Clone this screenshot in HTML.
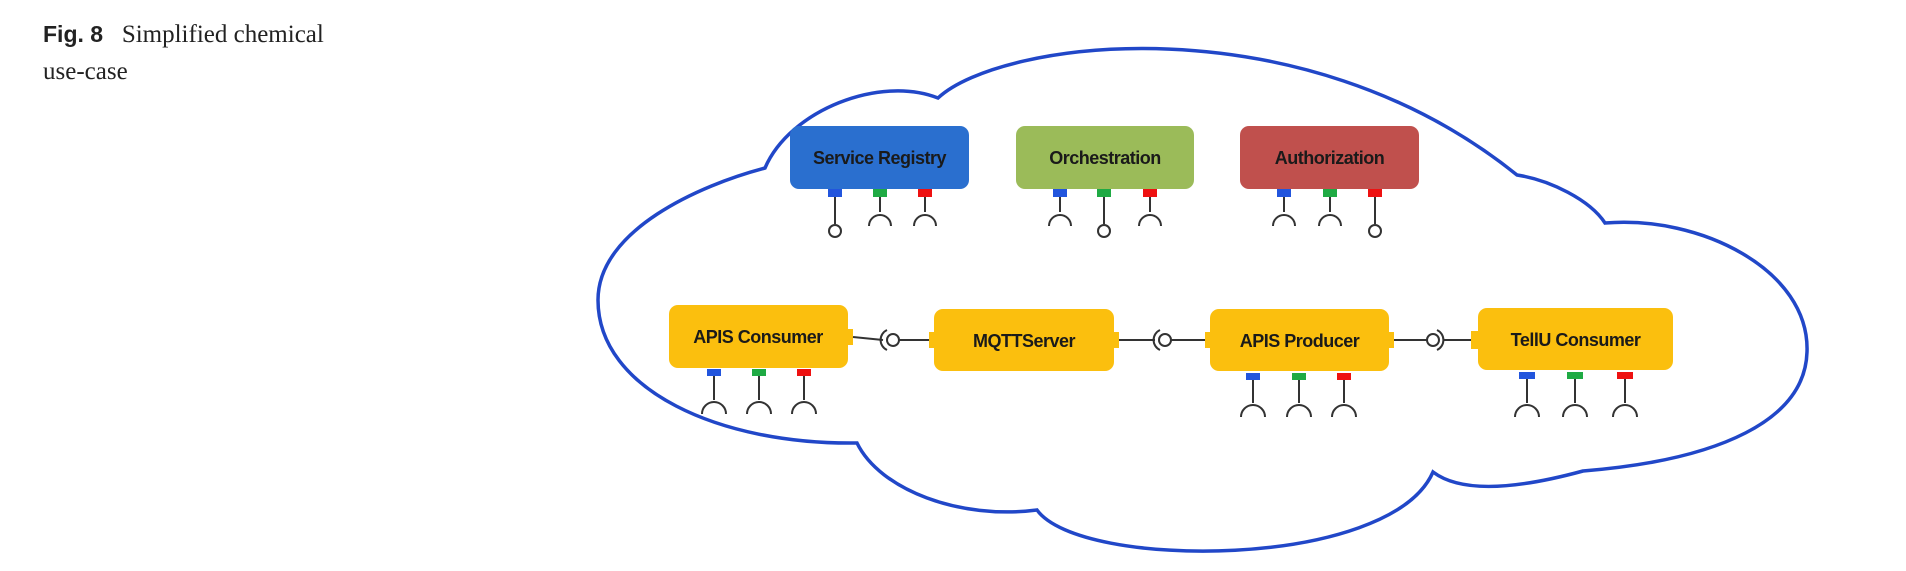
<!DOCTYPE html>
<html><head><meta charset="utf-8"><style>
html,body{margin:0;padding:0;background:#fff;}
body{width:1906px;height:571px;overflow:hidden;position:relative;}
.cap{position:absolute;left:43px;top:16px;font-family:"Liberation Serif",serif;font-size:25px;line-height:37px;color:#222;}
.cap b{font-family:"Liberation Sans",sans-serif;font-size:23px;}
svg{position:absolute;left:0;top:0;}
text{font-family:"Liberation Sans",sans-serif;font-weight:bold;font-size:18px;fill:#1a1a1a;letter-spacing:-0.5px;}
</style></head><body>
<div class="cap"><b>Fig. 8</b>&nbsp;&nbsp; Simplified chemical<br>use-case</div>
<svg width="1906" height="571" viewBox="0 0 1906 571">
<path d="M765 168 C790 110 880 75 938 98 C1000 40 1300 0 1517 175 C1550 180 1590 200 1605 223 C1700 215 1810 270 1807 352 C1805 420 1720 460 1583 471 C1550 480 1470 500 1433 472 C1390 570 1080 570 1037 510 C960 520 880 490 857 443 C720 445 598 390 598 300 C598 230 700 185 765 168 Z" fill="none" stroke="#2147c8" stroke-width="3.5"/>
<g>
<rect x="790" y="126" width="179" height="63" rx="9" fill="#2a6fcf"/>
<text x="879.5" y="164" text-anchor="middle">Service Registry</text>
<rect x="1016" y="126" width="178" height="63" rx="9" fill="#9bbb59"/>
<text x="1105" y="164" text-anchor="middle">Orchestration</text>
<rect x="1240" y="126" width="179" height="63" rx="9" fill="#c0504d"/>
<text x="1329.5" y="164" text-anchor="middle">Authorization</text>

<rect x="669" y="305" width="179" height="63" rx="9" fill="#fbbf0e"/>
<text x="758" y="343" text-anchor="middle">APIS Consumer</text>
<rect x="934" y="309" width="180" height="62" rx="9" fill="#fbbf0e"/>
<text x="1024" y="347" text-anchor="middle">MQTTServer</text>
<rect x="1210" y="309" width="179" height="62" rx="9" fill="#fbbf0e"/>
<text x="1299.5" y="347" text-anchor="middle">APIS Producer</text>
<rect x="1478" y="308" width="195" height="62" rx="9" fill="#fbbf0e"/>
<text x="1575.5" y="346" text-anchor="middle">TellU Consumer</text>
<rect x="846" y="329" width="7" height="16" fill="#fbbf0e"/>
<rect x="929" y="332" width="7" height="16" fill="#fbbf0e"/>
<rect x="1112" y="332" width="7" height="16" fill="#fbbf0e"/>
<rect x="1205" y="332" width="7" height="16" fill="#fbbf0e"/>
<rect x="1387" y="332" width="7" height="16" fill="#fbbf0e"/>
<rect x="1471" y="331" width="9" height="18" fill="#fbbf0e"/>
</g>
<g fill="none" stroke="#333" stroke-width="2">
<path d="M853 337 L883 340"/><circle cx="893" cy="340" r="6"/><path d="M887 330 A11 11 0 0 0 887 350"/><path d="M899 340 L929 340"/>
<path d="M1119 340 L1155 340"/><circle cx="1165" cy="340" r="6"/><path d="M1160 330 A11 11 0 0 0 1160 350"/><path d="M1171 340 L1205 340"/>
<path d="M1394 340 L1427 340"/><circle cx="1433" cy="340" r="6"/><path d="M1437 330 A11 11 0 0 1 1437 350"/><path d="M1443 340 L1471 340"/>
</g>
<g stroke="#333" stroke-width="2" fill="none">
<path d="M835 197V224 M880 197V212 M925 197V212 M1060 197V212 M1104 197V224 M1150 197V212 M1284 197V212 M1330 197V212 M1375 197V224"/>
<circle cx="835" cy="231" r="6"/><circle cx="1104" cy="231" r="6"/><circle cx="1375" cy="231" r="6"/>
<path d="M869 226 A11 11 0 0 1 891 226 M914 226 A11 11 0 0 1 936 226 M1049 226 A11 11 0 0 1 1071 226 M1139 226 A11 11 0 0 1 1161 226 M1273 226 A11 11 0 0 1 1295 226 M1319 226 A11 11 0 0 1 1341 226"/>
<path d="M714 376V400 M759 376V400 M804 376V400 M1253 380V403 M1299 380V403 M1344 380V403 M1527 379V403 M1575 379V403 M1625 379V403"/>
<path d="M702 414 A12 12 0 0 1 726 414 M747 414 A12 12 0 0 1 771 414 M792 414 A12 12 0 0 1 816 414 M1241 417 A12 12 0 0 1 1265 417 M1287 417 A12 12 0 0 1 1311 417 M1332 417 A12 12 0 0 1 1356 417 M1515 417 A12 12 0 0 1 1539 417 M1563 417 A12 12 0 0 1 1587 417 M1613 417 A12 12 0 0 1 1637 417"/>
</g>
<g>
<rect x="828" y="189" width="14" height="8" fill="#2255dd"/><rect x="873" y="189" width="14" height="8" fill="#1faa44"/><rect x="918" y="189" width="14" height="8" fill="#ee1111"/>
<rect x="1053" y="189" width="14" height="8" fill="#2255dd"/><rect x="1097" y="189" width="14" height="8" fill="#1faa44"/><rect x="1143" y="189" width="14" height="8" fill="#ee1111"/>
<rect x="1277" y="189" width="14" height="8" fill="#2255dd"/><rect x="1323" y="189" width="14" height="8" fill="#1faa44"/><rect x="1368" y="189" width="14" height="8" fill="#ee1111"/>
<rect x="707" y="369" width="14" height="7" fill="#2255dd"/><rect x="752" y="369" width="14" height="7" fill="#1faa44"/><rect x="797" y="369" width="14" height="7" fill="#ee1111"/>
<rect x="1246" y="373" width="14" height="7" fill="#2255dd"/><rect x="1292" y="373" width="14" height="7" fill="#1faa44"/><rect x="1337" y="373" width="14" height="7" fill="#ee1111"/>
<rect x="1519" y="372" width="16" height="7" fill="#2255dd"/><rect x="1567" y="372" width="16" height="7" fill="#1faa44"/><rect x="1617" y="372" width="16" height="7" fill="#ee1111"/>
</g>
</svg>
</body></html>
